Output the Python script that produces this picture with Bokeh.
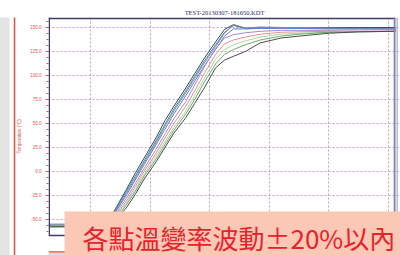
from bokeh.plotting import figure
from bokeh.models import Range1d, FixedTicker, BoxAnnotation, Label, NumeralTickFormatter, LinearAxis
from bokeh.embed import file_html
from bokeh.resources import INLINE

# ---- data ----
time_min = [3, 5.5, 8, 11, 12.5, 14, 16, 17.5, 19, 21, 22.5, 24, 26, 27.5, 29, 31, 32.5, 34, 36, 38.5, 42, 45, 50, 55, 61.2]

ch1 = [-56, -56, -56, -55, -51, -41, -19, -2, 14, 35, 53, 68, 87, 102, 117, 135, 148, 153, 149, 150, 150, 150, 150, 150, 150]
ch2 = [-55, -55, -55, -55, -51, -42, -21, -5, 11, 32, 49, 65, 84, 99, 114, 132, 145, 152, 149, 150, 150, 149.5, 149, 149, 149]
ch3 = [-57, -57, -57, -56, -52, -43, -23, -7, 9, 30, 47, 63, 82, 97, 112, 130, 144, 153, 149.5, 150.5, 150, 150, 149.5, 149, 149]
ch4 = [-55, -55, -55, -55, -52, -44, -25, -9, 7, 28, 44, 60, 79, 94, 109, 127, 141, 148.5, 148.5, 149, 149, 149, 148.5, 148.5, 148.5]
ch5 = [-56, -56, -56, -56, -53, -46, -28, -13, 3, 23, 39, 55, 73, 90, 108, 128, 139, 142.5, 144.5, 146, 147, 147, 147, 147.5, 148]
ch6 = [-57, -57, -57, -57, -54, -48, -31, -16, 0, 19, 35, 50, 68, 84, 101, 122, 133, 137, 140, 143, 145, 145.5, 146, 146, 146.5]
ch7 = [-56, -56, -56, -57, -55, -49, -33, -19, -3, 16, 31, 46, 63, 79, 96, 117, 127, 132, 136, 140, 143, 144, 145, 145.5, 146]
ch8 = [-58, -58, -58, -58, -56, -51, -35, -21, -5, 13, 28, 43, 60, 75, 92, 112, 122, 127, 132, 137, 141, 143, 145, 145.5, 146]
ch9 = [-57, -57, -57, -58, -56, -52, -38, -24, -8, 10, 25, 40, 56, 71, 86, 108, 116, 120, 125, 134, 139, 141, 144, 145.5, 146]

series = [ch1, ch2, ch3, ch4, ch5, ch6, ch7, ch8, ch9]
colors = ["#2f4a68", "#3d8c96", "#8c8c96", "#5b7fd0", "#a38ad6", "#ee8a8a", "#a8d8a0", "#6aaa6a", "#4a4a4a"]

y_major_ticks = [-50, -25, 0, 25, 50, 75, 100, 125, 150]
y_minor_ticks = [-62.5 + 6.25 * i for i in range(36)]
x_grid_ticks = [10, 20, 30, 40, 50, 60]
title_text = "TEST-20130307-181650.KDT"
y_label = "Temperature (\u00b0C)"
note_text = "各點溫變率波動±20%以內"

# data-space extent of the chart box
X0, X1 = 2.95, 61.2
Y0, Y1 = -66.7, 160.4

p = figure(width=400, height=255, output_backend="svg", toolbar_location=None,
           x_axis_location=None,
           x_range=Range1d(X0, 62.04), y_range=Range1d(-87.5, Y1),
           min_border_left=48, min_border_right=0, min_border_top=17, min_border_bottom=0)
p.background_fill_color = "white"
p.border_fill_color = "white"
p.outline_line_color = None

p.title.text = title_text
p.title.text_font = "Liberation Serif"
p.title.text_font_size = "6.5px"
p.title.text_font_style = "normal"
p.title.text_color = "#2a2a6a"
p.title.align = "center"
p.title.standoff = 4

for s, c in zip(series, colors):
    p.line(time_min, s, line_color=c, line_width=1)

navy = "#3c3c6e"
red = "#e05050"

# grids
p.xgrid.ticker = FixedTicker(ticks=x_grid_ticks)
p.ygrid.ticker = FixedTicker(ticks=y_major_ticks)
for g in (p.xgrid, p.ygrid):
    g.grid_line_color = "#c89ad0"
    g.grid_line_dash = "2 2"
    g.grid_line_width = 1

# y axis
p.yaxis.ticker = FixedTicker(ticks=y_major_ticks, minor_ticks=y_minor_ticks)
p.yaxis.formatter = NumeralTickFormatter(format="0.0")
p.yaxis.axis_line_color = None
p.yaxis.major_tick_line_color = red
p.yaxis.minor_tick_line_color = red
p.yaxis.major_tick_out = 3
p.yaxis.major_tick_in = 0
p.yaxis.minor_tick_out = 2
p.yaxis.minor_tick_in = 0
p.yaxis.major_label_text_font = "Liberation Sans"
p.yaxis.major_label_text_font_size = "4.5px"
p.yaxis.major_label_text_color = red
p.yaxis.major_label_standoff = 4
p.yaxis.axis_label = y_label
p.yaxis.axis_label_text_font = "Liberation Sans"
p.yaxis.axis_label_text_font_size = "4.5px"
p.yaxis.axis_label_text_color = red
p.yaxis.axis_label_text_font_style = "normal"
p.yaxis.axis_label_standoff = 5


def deco_axis(line_color, line_width, label_size=None):
    ax = LinearAxis(ticker=FixedTicker(ticks=[]), axis_line_color=line_color, axis_line_width=line_width,
                    major_tick_out=0, major_tick_in=0, minor_tick_out=0, minor_tick_in=0,
                    major_tick_line_color=None, minor_tick_line_color=None,
                    major_label_text_color=None)
    if label_size:
        ax.axis_label = "\u00a0"
        ax.axis_label_text_font_size = label_size
        ax.axis_label_standoff = 2
    p.add_layout(ax, "left")


deco_axis("#f04a3a", 1.5, "6px")   # red window frame
deco_axis("#e4e4e4", 12)           # grey strip


def dbox(l, r, b, t, color):
    p.add_layout(BoxAnnotation(left=l, right=r, bottom=b, top=t, fill_color=color, fill_alpha=1,
                               line_color=None, level="overlay"))


px = 347 / (X1 - X0)   # pixels per x unit
py = 218 / (Y1 - Y0)   # pixels per y unit

# chart box outline
dbox(X0, X0 + 1.5 / px, Y0, Y1, navy)                    # left axis line
dbox(X0, X1, Y1 - 1.8 / py, Y1, navy)                    # top line
dbox(X0, X1, Y0 - 0.8 / py, Y0 + 0.8 / py, navy)         # bottom axis line
dbox(X1 - 1.8 / px, X1, Y0, Y1, "#8080a8")               # right line
dbox(X1 + 1.0 / px, X1 + 2.3 / px, Y0, Y1, "#b0b0c8")    # right shadow line
# window frame bottom edge
dbox(X0, 70, Y0 - 17.2 / py, Y0 - 15.7 / py, "#f04a3a")
dbox(X0, 70, -100, Y0 - 17.2 / py, "#dcdcdc")

# overlay note
dbox(X0 + 16 / px, 70, -100, Y0 + 24 / py, "#fbc8b6")
p.add_layout(Label(x=X0 + 34 / px, y=Y0 - 2 / py, text=note_text,
                   text_font="Noto Sans CJK TC", text_font_size="26px", text_color="#e8222a",
                   text_align="left", text_baseline="middle", level="overlay"))

open("out.html", "w").write(file_html(p, INLINE))
